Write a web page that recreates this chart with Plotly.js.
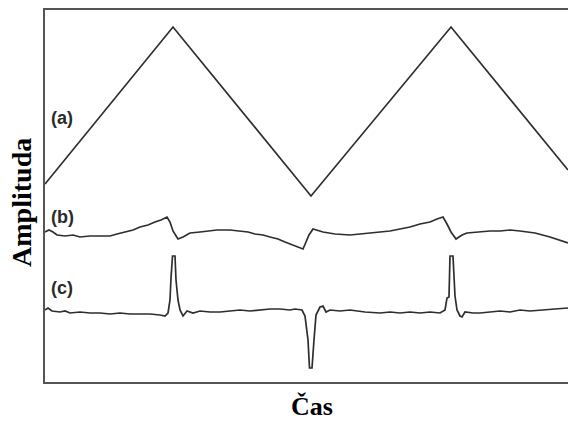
<!DOCTYPE html>
<html>
<head>
<meta charset="utf-8">
<script src="https://cdn.plot.ly/plotly-3.0.1.min.js"></script>
<style>html,body{margin:0;padding:0;background:#fff;}#chart{width:568px;height:421px;}</style>
</head>
<body>
<div id="chart"></div>
<script>
// time (arbitrary units) and amplitudes (arbitrary units)
var tA = [0, 128, 266, 406, 523];
var yA = [216, 373, 204, 373, 230];

var tB = [0, 4, 8, 12, 20, 28, 35, 45, 55, 65, 72, 80, 88, 95, 103, 110, 116, 122, 125, 128, 133, 138, 145, 155, 163, 172, 185, 195, 203, 210, 218, 225, 233, 240, 248, 255, 258, 261, 264, 268, 272, 278, 290, 305, 315, 325, 335, 345, 355, 365, 375, 385, 392, 398, 402, 406, 411, 417, 422, 435, 445, 455, 465, 475, 490, 505, 515, 523];
var yB = [168, 170, 168, 165, 164, 165, 163, 164, 164, 164, 166, 168, 170, 173, 175, 178, 180, 183, 178, 169, 161, 163, 167, 168, 169, 170, 170, 169, 168, 166, 165, 163, 161, 158, 155, 152, 151, 158, 165, 171, 170, 168, 166, 165, 166, 167, 168, 169, 171, 173, 176, 178, 181, 183, 176, 168, 161, 165, 167, 168, 169, 169, 170, 169, 167, 163, 160, 157];

var tC = [0, 3, 7, 15, 20, 25, 35, 45, 55, 65, 75, 85, 95, 105, 115, 120, 123, 125, 126, 127.5, 130, 131, 133, 135, 138, 142, 148, 155, 165, 175, 185, 195, 205, 215, 225, 235, 245, 250, 257, 260, 263, 264.5, 267, 269, 271, 275, 278, 281, 285, 295, 305, 320, 335, 345, 355, 365, 375, 385, 395, 400, 402, 404, 405, 408, 410, 412, 415, 417, 420, 428, 435, 445, 455, 465, 475, 485, 495, 510, 523];
var yC = [90, 92, 89, 88, 89, 87, 88, 87, 87, 86, 87, 86, 86, 86, 85, 84, 87, 100, 122, 144, 144, 120, 100, 90, 84, 89, 87, 89, 88, 88, 89, 90, 89, 90, 91, 91, 90, 91, 90, 84, 60, 32, 32, 60, 85, 93, 94, 88, 90, 89, 90, 88, 87, 88, 87, 88, 87, 88, 87, 90, 102, 103, 144, 144, 104, 90, 84, 83, 88, 87, 87, 88, 89, 88, 90, 89, 90, 91, 92];

var labels = ["(a)", "(b)", "(c)"];
var labelY = [282, 183, 112];

var lineStyle = {color: "#2e2e2e", width: 1.7};
var traces = [
  {x: tA, y: yA, mode: "lines", line: lineStyle, hoverinfo: "skip"},
  {x: tB, y: yB, mode: "lines", line: lineStyle, hoverinfo: "skip"},
  {x: tC, y: yC, mode: "lines", line: lineStyle, hoverinfo: "skip"}
];

var annotations = labels.map(function (s, i) {
  return {x: 4, y: labelY[i], xref: "x", yref: "y", text: "<b>" + s + "</b>",
    showarrow: false, xanchor: "left", yanchor: "middle",
    font: {family: "Liberation Sans, Arial, sans-serif", size: 18, color: "#2a2a2a"}};
});
annotations.push({x: -0.044, y: 0.484, xref: "paper", yref: "paper", text: "<b>Amplituda</b>",
  textangle: -90, showarrow: false, xanchor: "center", yanchor: "middle",
  font: {family: "Liberation Serif, Times New Roman, serif", size: 28, color: "#000"}});
annotations.push({x: 0.51, y: -0.067, xref: "paper", yref: "paper", text: "<b>Čas</b>",
  showarrow: false, xanchor: "center", yanchor: "middle", borderpad: 0,
  font: {family: "Liberation Serif, Times New Roman, serif", size: 26, color: "#000"}});

var layout = {
  width: 568, height: 421,
  margin: {l: 45, r: 0, t: 10, b: 39},
  paper_bgcolor: "#fff", plot_bgcolor: "#fff",
  showlegend: false,
  xaxis: {range: [0, 523], showgrid: false, zeroline: false, showticklabels: false, ticks: "",
    showline: true, mirror: true, linecolor: "#555", linewidth: 2},
  yaxis: {range: [18, 390], showgrid: false, zeroline: false, showticklabels: false, ticks: "",
    showline: true, mirror: false, linecolor: "#555", linewidth: 2},
  annotations: annotations
};

Plotly.newPlot("chart", traces, layout, {staticPlot: true, displayModeBar: false});
</script>
</body>
</html>
